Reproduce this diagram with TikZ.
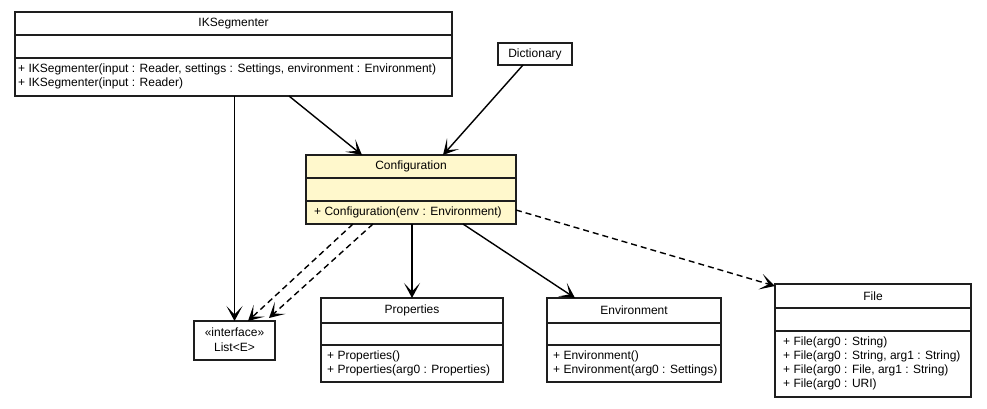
\documentclass[tikz,border=0pt]{standalone}
\usepackage{fontspec}
\setmainfont{Liberation Sans}
\usetikzlibrary{arrows.meta}
\definecolor{confill}{RGB}{255,248,204}
\definecolor{boxline}{RGB}{30,30,30}
\begin{document}
\begin{tikzpicture}[x=1pt,y=-1pt,
  font=\fontsize{12}{14}\selectfont,
  cls/.style={draw=boxline, line width=1.3pt, fill=white, inner sep=0pt, outer sep=0pt, anchor=north west},
  sepline/.style={draw=boxline, line width=1.3pt},
  ttl/.style={inner sep=0pt, anchor=center},
  mth/.style={inner sep=0pt, anchor=west},
  conn/.style={line width=1.4pt, -{Stealth[length=15pt,width=16pt,inset=8.5pt]}},
  dep/.style={conn, dash pattern=on 6pt off 4pt}
]
\useasboundingbox (0,0) rectangle (987,408);

% IKSegmenter
\node[cls, minimum width=437pt, minimum height=84pt] (ik) at (15,12) {};
\draw[sepline] ([yshift=-23pt]ik.north west) -- ([yshift=-23pt]ik.north east);
\draw[sepline] ([yshift=-46pt]ik.north west) -- ([yshift=-46pt]ik.north east);
\node[ttl] (ikt) at ([yshift=-11.5pt]ik.north) {IKSegmenter};
\node[mth] (ikm1) at ([xshift=3pt,yshift=-57pt]ik.north west) {+ IKSegmenter(input : Reader, settings : Settings, environment : Environment)};
\node[mth] (ikm2) at ([xshift=3pt,yshift=-71pt]ik.north west) {+ IKSegmenter(input : Reader)};

% Dictionary
\node[cls, minimum width=74pt, minimum height=22pt] (dict) at (498,43) {};
\node[ttl] (dictt) at (dict.center) {Dictionary};

% Configuration
\node[cls, fill=confill, minimum width=210pt, minimum height=69pt] (conf) at (306,155) {};
\draw[sepline] ([yshift=-23pt]conf.north west) -- ([yshift=-23pt]conf.north east);
\draw[sepline] ([yshift=-46pt]conf.north west) -- ([yshift=-46pt]conf.north east);
\node[ttl] (conft) at ([yshift=-11.5pt]conf.north) {Configuration};
\node[mth] (confm1) at ([xshift=8pt,yshift=-57.5pt]conf.north west) {+ Configuration(env : Environment)};

% List<E>
\node[cls, minimum width=81pt, minimum height=39pt] (list) at (194,321) {};
\node[ttl] (listt1) at ([yshift=-11pt]list.north) {«interface»};
\node[ttl] (listt2) at ([yshift=-26pt]list.north) {List<E>};

% Properties
\node[cls, minimum width=182pt, minimum height=84pt] (prop) at (321,298) {};
\draw[sepline] ([yshift=-25pt]prop.north west) -- ([yshift=-25pt]prop.north east);
\draw[sepline] ([yshift=-47pt]prop.north west) -- ([yshift=-47pt]prop.north east);
\node[ttl] (propt) at ([yshift=-12pt]prop.north) {Properties};
\node[mth] (propm1) at ([xshift=6pt,yshift=-58pt]prop.north west) {+ Properties()};
\node[mth] (propm2) at ([xshift=6pt,yshift=-72pt]prop.north west) {+ Properties(arg0 : Properties)};

% Environment
\node[cls, minimum width=174pt, minimum height=84pt] (env) at (547,298) {};
\draw[sepline] ([yshift=-25pt]env.north west) -- ([yshift=-25pt]env.north east);
\draw[sepline] ([yshift=-47pt]env.north west) -- ([yshift=-47pt]env.north east);
\node[ttl] (envt) at ([yshift=-12pt]env.north) {Environment};
\node[mth] (envm1) at ([xshift=6pt,yshift=-58pt]env.north west) {+ Environment()};
\node[mth] (envm2) at ([xshift=6pt,yshift=-72pt]env.north west) {+ Environment(arg0 : Settings)};

% File
\node[cls, minimum width=196pt, minimum height=113pt] (file) at (775,284) {};
\draw[sepline] ([yshift=-24pt]file.north west) -- ([yshift=-24pt]file.north east);
\draw[sepline] ([yshift=-47pt]file.north west) -- ([yshift=-47pt]file.north east);
\node[ttl] (filet) at ([yshift=-12pt]file.north) {File};
\node[mth] (filem1) at ([xshift=8pt,yshift=-58pt]file.north west) {+ File(arg0 : String)};
\node[mth] (filem2) at ([xshift=8pt,yshift=-72pt]file.north west) {+ File(arg0 : String, arg1 : String)};
\node[mth] (filem3) at ([xshift=8pt,yshift=-86pt]file.north west) {+ File(arg0 : File, arg1 : String)};
\node[mth] (filem4) at ([xshift=8pt,yshift=-100pt]file.north west) {+ File(arg0 : URI)};

% Connectors
\draw[conn] (ik.south -| list.north) -- (list.north);
\draw[conn] ([xshift=274pt]ik.south west) -- ([xshift=56pt]conf.north west);
\draw[conn] ([xshift=25pt]dict.south west) -- ([xshift=137pt]conf.north west);
\draw[dep] ([xshift=47pt]conf.south west) -- ([xshift=54pt]list.north west);
\draw[dep] ([xshift=67pt]conf.south west) -- ([xshift=-6pt,yshift=3pt]list.north east);
\draw[conn] (conf.south -| prop.north) -- (prop.north);
\draw[conn] ([xshift=157pt]conf.south west) -- ([xshift=28pt]env.north west);
\draw[dep] ([yshift=14pt]conf.south east) -- ([yshift=-2pt]file.north west);
\end{tikzpicture}
\end{document}
